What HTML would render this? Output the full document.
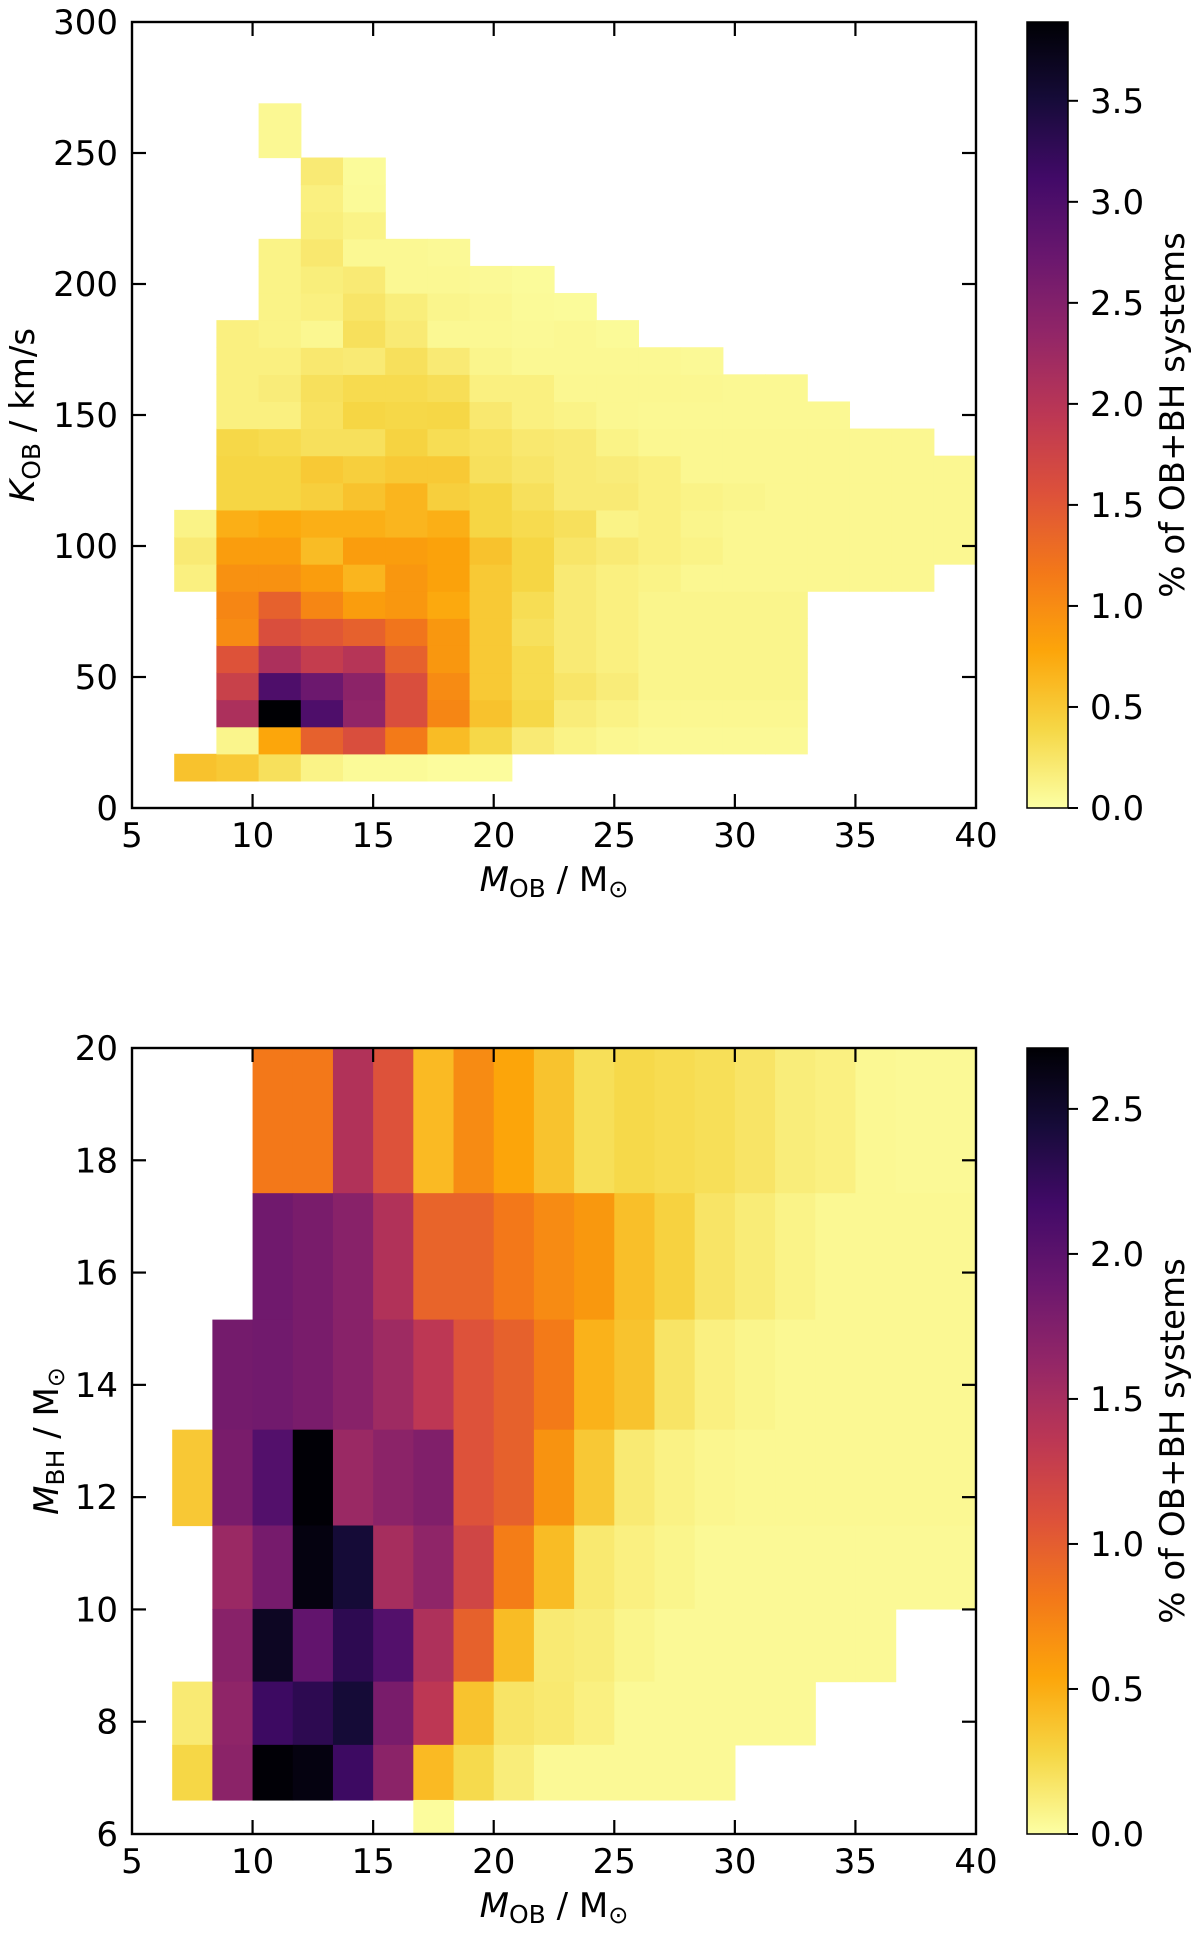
<!DOCTYPE html>
<html><head><meta charset="utf-8">
<style>
html,body{margin:0;padding:0;background:#fff;}
svg{display:block;font-family:"DejaVu Sans","Liberation Sans",sans-serif;}
</style></head>
<body>
<svg id="fig" width="1200" height="1943" viewBox="0 0 1200 1943" xmlns="http://www.w3.org/2000/svg"></svg>
<script>
// ---------- data: top panel (K_OB vs M_OB), rows from K=0 upward, 20 mass bins ----------
const topXEdgesStart = 5, topXBinWidth = 1.75, topXBins = 20;
const topYBinWidth = 300/29;
const topVmax = 3.89;
const topRows = [
 [0,0,0,0,0,0,0,0,0,0,0,0,0,0,0,0,0,0,0,0],
 [0,0.55,0.5,0.3,0.12,0.05,0.05,0.03,0.03,0,0,0,0,0,0,0,0,0,0,0],
 [0,0,0.1,0.77,1.4,1.6,1.15,0.6,0.38,0.2,0.12,0.08,0.06,0.06,0.06,0.06,0,0,0,0],
 [0,0,2.1,3.89,3.0,2.35,1.6,1.05,0.55,0.38,0.18,0.13,0.08,0.08,0.08,0.08,0,0,0,0],
 [0,0,1.8,3.0,2.7,2.4,1.6,1.0,0.5,0.35,0.25,0.18,0.1,0.1,0.1,0.1,0,0,0,0],
 [0,0,1.55,2.1,1.85,2.0,1.4,0.9,0.5,0.35,0.2,0.15,0.1,0.1,0.1,0.1,0,0,0,0],
 [0,0,1.0,1.6,1.5,1.4,1.2,0.9,0.5,0.3,0.2,0.15,0.1,0.1,0.1,0.1,0,0,0,0],
 [0,0,1.05,1.4,1.05,0.85,0.9,0.75,0.5,0.33,0.2,0.15,0.1,0.1,0.1,0.1,0,0,0,0],
 [0,0.15,0.95,0.95,0.85,0.65,0.9,0.8,0.5,0.4,0.2,0.15,0.12,0.08,0.08,0.08,0.08,0.08,0.08,0],
 [0,0.2,0.85,0.85,0.6,0.85,0.85,0.8,0.55,0.4,0.25,0.2,0.15,0.12,0.08,0.08,0.08,0.08,0.08,0.08],
 [0,0.12,0.7,0.75,0.7,0.7,0.65,0.7,0.4,0.35,0.3,0.12,0.15,0.1,0.08,0.08,0.08,0.08,0.08,0.08],
 [0,0,0.4,0.4,0.45,0.55,0.65,0.45,0.4,0.3,0.2,0.2,0.15,0.12,0.1,0.08,0.08,0.08,0.08,0.08],
 [0,0,0.4,0.4,0.5,0.45,0.5,0.5,0.3,0.25,0.2,0.18,0.15,0.08,0.08,0.08,0.08,0.08,0.08,0.08],
 [0,0,0.38,0.35,0.3,0.3,0.42,0.33,0.28,0.22,0.2,0.12,0.08,0.08,0.08,0.08,0.08,0.08,0.08,0],
 [0,0,0.15,0.15,0.28,0.4,0.38,0.39,0.22,0.15,0.12,0.08,0.07,0.07,0.07,0.07,0.07,0,0,0],
 [0,0,0.15,0.18,0.3,0.35,0.35,0.32,0.15,0.15,0.08,0.08,0.08,0.08,0.07,0.07,0,0,0,0],
 [0,0,0.15,0.15,0.22,0.2,0.3,0.2,0.1,0.07,0.07,0.07,0.07,0.06,0,0,0,0,0,0],
 [0,0,0.15,0.12,0.08,0.3,0.2,0.07,0.07,0.06,0.07,0.05,0,0,0,0,0,0,0,0],
 [0,0,0,0.12,0.15,0.25,0.17,0.1,0.08,0.05,0.04,0,0,0,0,0,0,0,0,0],
 [0,0,0,0.12,0.17,0.2,0.07,0.07,0.06,0.04,0,0,0,0,0,0,0,0,0,0],
 [0,0,0,0.12,0.22,0.07,0.07,0.06,0,0,0,0,0,0,0,0,0,0,0,0],
 [0,0,0,0,0.17,0.12,0,0,0,0,0,0,0,0,0,0,0,0,0,0],
 [0,0,0,0,0.15,0.05,0,0,0,0,0,0,0,0,0,0,0,0,0,0],
 [0,0,0,0,0.2,0.04,0,0,0,0,0,0,0,0,0,0,0,0,0,0],
 [0,0,0,0.07,0,0,0,0,0,0,0,0,0,0,0,0,0,0,0,0],
 [0,0,0,0.07,0,0,0,0,0,0,0,0,0,0,0,0,0,0,0,0]
];
const topXTicks = [5,10,15,20,25,30,35,40];
const topYTicks = [0,50,100,150,200,250,300];
const topCbTicks = [0.0,0.5,1.0,1.5,2.0,2.5,3.0,3.5];

// ---------- data: bottom panel (M_BH vs M_OB), rows from top (M_BH=20) downward, 21 mass bins ----------
const botXEdgesStart = 5, botXBinWidth = 5/3, botXBins = 21;
const botYTop = 20, botYRatio = 1.1485;
const botVmax = 2.71;
const botRows = [
 [0,0,0,0.81,0.81,1.43,1.08,0.43,0.7,0.54,0.38,0.22,0.26,0.24,0.22,0.18,0.12,0.1,0.05,0.04,0.04],
 [0,0,0,1.86,1.8,1.7,1.43,0.95,0.95,0.81,0.7,0.62,0.4,0.3,0.18,0.13,0.08,0.05,0.05,0.05,0.05],
 [0,0,1.83,1.85,1.8,1.7,1.55,1.35,1.08,0.97,0.8,0.47,0.38,0.18,0.1,0.07,0.05,0.05,0.05,0.05,0.05],
 [0,0.35,1.8,2.05,2.7,1.58,1.68,1.75,1.08,0.97,0.65,0.35,0.14,0.09,0.06,0.05,0.05,0.05,0.05,0.05,0.05],
 [0,0,1.58,1.82,2.65,2.45,1.5,1.65,1.2,0.78,0.42,0.15,0.1,0.07,0.04,0.04,0.04,0.04,0.04,0.04,0.04],
 [0,0,1.7,2.55,1.95,2.3,2.05,1.45,0.97,0.42,0.14,0.12,0.07,0.04,0.04,0.04,0.04,0.04,0.04,0,0],
 [0,0.14,1.65,2.2,2.3,2.45,1.8,1.35,0.38,0.18,0.15,0.1,0.04,0.04,0.04,0.04,0.04,0,0,0,0],
 [0,0.27,1.68,2.7,2.65,2.2,1.68,0.43,0.25,0.12,0.04,0.04,0.04,0.04,0.04,0,0,0,0,0,0],
 [0,0,0,0,0,0,0,0.02,0,0,0,0,0,0,0,0,0,0,0,0,0]
];
const botXTicks = [5,10,15,20,25,30,35,40];
const botYTicks = [6,8,10,12,14,16,18,20];
const botCbTicks = [0.0,0.5,1.0,1.5,2.0,2.5];

// inferno colormap stops
const infernoStops = ["#000004","#160b39","#420a68","#6a176e","#932667","#bc3754","#dd513a","#f37819","#fca50a","#f6d746","#fcffa4"];

const NS = "http://www.w3.org/2000/svg";
const svg = document.getElementById('fig');
function mk(tag, attrs, parent){
  const e = document.createElementNS(NS, tag);
  for (const k in attrs) e.setAttribute(k, attrs[k]);
  (parent||svg).appendChild(e);
  return e;
}
function hex(h){return [parseInt(h.substr(1,2),16),parseInt(h.substr(3,2),16),parseInt(h.substr(5,2),16)];}
function inferno(t){
  t=Math.max(0,Math.min(1,t));
  const p=t*10, i=Math.min(9,Math.floor(p)), f=p-i;
  const a=hex(infernoStops[i]), b=hex(infernoStops[i+1]);
  return 'rgb('+a.map((v,k)=>Math.round(v+(b[k]-v)*f)).join(',')+')';
}
function colorFor(v,vmax){return inferno(1 - v/vmax);}

function panel(opts){
  const g = mk('g', {});
  
  
  const L=132, R=976, T=opts.top, B=opts.top+786;
  const xs = v => L + (v-5)/35*(R-L);
  const ys = v => B - (v-opts.ymin)/(opts.ymax-opts.ymin)*(B-T);
  const clipId = opts.name+'-clip';
  const defs = mk('defs',{},g);
  const cp = mk('clipPath',{id:clipId},defs);
  mk('rect',{x:L,y:T,width:R-L,height:B-T},cp);
  const cells = mk('g',{'clip-path':'url(#'+clipId+')'},g);
  
  
  opts.cells.forEach(c=>{
    if(!(c.v>0)) return;
    const x0=xs(c.x0), x1=xs(c.x1), y0=ys(c.y1), y1=ys(c.y0);
    const r = mk('rect',{x:x0.toFixed(2),y:y0.toFixed(2),width:(x1-x0+0.6).toFixed(2),height:(y1-y0+0.6).toFixed(2),fill:colorFor(c.v,opts.vmax)},cells);
    
    
  });
  // frame
  const fr = mk('rect',{x:L,y:T,width:R-L,height:B-T,fill:'none',stroke:'#000','stroke-width':2.4},g);
  
  
  // x ticks
  opts.xticks.forEach(t=>{
    const x=xs(t);
    if(t>5 && t<40){
      mk('line',{x1:x,y1:B,x2:x,y2:B-14,stroke:'#000','stroke-width':2.2},g);
      mk('line',{x1:x,y1:T,x2:x,y2:T+14,stroke:'#000','stroke-width':2.2},g);
    }
    const tx = mk('text',{x:x,y:B+39,'font-size':34,'text-anchor':'middle'},g);
    tx.textContent = t;
    
    
  });
  opts.yticks.forEach(t=>{
    const y=ys(t);
    if(t>opts.ymin && t<opts.ymax){
      mk('line',{x1:L,y1:y,x2:L+14,y2:y,stroke:'#000','stroke-width':2.2},g);
      mk('line',{x1:R,y1:y,x2:R-14,y2:y,stroke:'#000','stroke-width':2.2},g);
    }
    const ty = mk('text',{x:118,y:y+12,'font-size':34,'text-anchor':'end'},g);
    ty.textContent = t;
    
    
  });
  // x label
  const xl = mk('text',{x:(L+R)/2,y:B+83,'font-size':34,'text-anchor':'middle'},g);
  
  
  xl.innerHTML = '<tspan font-style="italic">M</tspan><tspan font-size="25" dy="6">OB</tspan><tspan dy="-6"> / M</tspan><tspan font-size="24" dy="6">⊙</tspan>';
  // y label
  const yl = mk('text',{x:0,y:0,'font-size':34,'text-anchor':'middle',transform:'translate('+(opts.ylabelX)+','+(T+B)/2+') rotate(-90)'},g);
  
  
  yl.innerHTML = opts.ylabel;
  // colorbar
  const cbL=1027, cbR=1068;
  const gid = opts.name+'-grad';
  const lg = mk('linearGradient',{id:gid,x1:0,y1:1,x2:0,y2:0},defs);
  for(let i=0;i<=20;i++){ mk('stop',{offset:(i/20),'stop-color':inferno(1-i/20)},lg); }
  const cb = mk('rect',{x:cbL,y:T,width:cbR-cbL,height:B-T,fill:'url(#'+gid+')',stroke:'#000','stroke-width':1.5},g);
  
  
  opts.cbticks.forEach(t=>{
    const y = B - t/opts.vmax*(B-T);
    mk('line',{x1:cbR,y1:y,x2:cbR+10,y2:y,stroke:'#000','stroke-width':2},g);
    const ct = mk('text',{x:1090,y:y+12,'font-size':34},g);
    ct.textContent = t.toFixed(1);
    
    
  });
  const cl = mk('text',{x:0,y:0,'font-size':34,'text-anchor':'middle',transform:'translate(1184,'+((T+B)/2)+') rotate(-90)'},g);
  cl.textContent = '% of OB+BH systems';
  
  
}

// build top cells
const topCells=[];
topRows.forEach((row,r)=>row.forEach((v,c)=>{
  topCells.push({x0:topXEdgesStart+c*topXBinWidth,x1:topXEdgesStart+(c+1)*topXBinWidth,y0:r*topYBinWidth,y1:(r+1)*topYBinWidth,v:v});
}));
panel({name:'top-panel',top:22,ymin:0,ymax:300,vmax:topVmax,cells:topCells,xticks:topXTicks,yticks:topYTicks,cbticks:topCbTicks,ylabelX:34,
  ylabel:'<tspan font-style="italic">K</tspan><tspan font-size="25" dy="6">OB</tspan><tspan dy="-6"> / km/s</tspan>'});

// build bottom cells
const botCells=[];
botRows.forEach((row,r)=>row.forEach((v,c)=>{
  const yHi = botYTop/Math.pow(botYRatio,r), yLo = botYTop/Math.pow(botYRatio,r+1);
  botCells.push({x0:botXEdgesStart+c*botXBinWidth,x1:botXEdgesStart+(c+1)*botXBinWidth,y0:yLo,y1:yHi,v:v});
}));
panel({name:'bottom-panel',top:1048,ymin:6,ymax:20,vmax:botVmax,cells:botCells,xticks:botXTicks,yticks:botYTicks,cbticks:botCbTicks,ylabelX:58,
  ylabel:'<tspan font-style="italic">M</tspan><tspan font-size="25" dy="6">BH</tspan><tspan dy="-6"> / M</tspan><tspan font-size="24" dy="6">⊙</tspan>'});
</script>
</body></html>
